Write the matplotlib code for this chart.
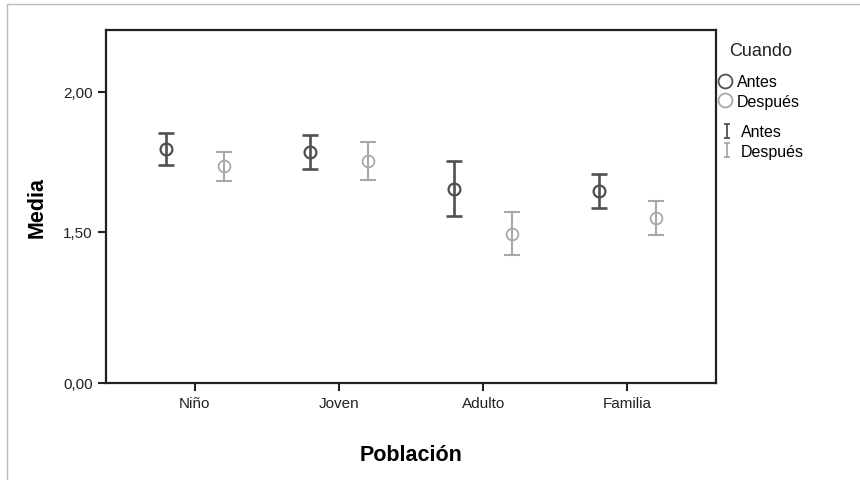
import numpy as np
import matplotlib
matplotlib.use('Agg')
import matplotlib.pyplot as plt
from matplotlib.lines import Line2D
from matplotlib.patches import Rectangle
from matplotlib.path import Path
from matplotlib.ticker import FixedLocator, FuncFormatter

plt.rcParams['font.family'] = ['Liberation Sans', 'DejaVu Sans']

# data
poblacion = ['Niño', 'Joven', 'Adulto', 'Familia']
antes_media = [1.795, 1.785, 1.651, 1.644]
antes_low = [1.738, 1.723, 1.555, 1.586]
antes_high = [1.851, 1.846, 1.751, 1.705]
despues_media = [1.734, 1.751, 1.491, 1.548]
despues_low = [1.682, 1.686, 1.417, 1.488]
despues_high = [1.786, 1.819, 1.569, 1.610]
yticks = [0.0, 1.5, 2.0]

c_antes = '#505050'
c_desp = '#a8a8a8'

# SPSS squeezes the axis below the data, so use a piecewise scale
brk, k = 1.4, 0.314
def fwd(y):
    y = np.asarray(y, dtype=float)
    return np.where(y >= brk, y, brk - (brk - y) * k)
def inv(y):
    y = np.asarray(y, dtype=float)
    return np.where(y >= brk, y, brk - (brk - y) / k)

fig = plt.figure(figsize=(8.6, 4.81), dpi=100)
ax = fig.add_axes([0.1233, 0.2017, 0.7093, 0.7339])
ax.set_yscale('function', functions=(fwd, inv))

x = np.arange(len(poblacion))
off = 0.2

def draw(xs, m, lo, hi, col, lw):
    m, lo, hi = np.array(m), np.array(lo), np.array(hi)
    ax.errorbar(xs, m, yerr=[m - lo, hi - m], fmt='none', ecolor=col,
                elinewidth=lw, capsize=6, capthick=lw)
    ax.plot(xs, m, 'o', mfc='none', mec=col, ms=8.5, mew=lw * 0.85)

draw(x - off, antes_media, antes_low, antes_high, c_antes, 1.9)
draw(x + off, despues_media, despues_low, despues_high, c_desp, 1.5)

ax.set_xlim(-0.615, 3.615)
ax.set_ylim(0, 2.22)
ax.yaxis.set_major_locator(FixedLocator(yticks))
ax.yaxis.set_minor_locator(FixedLocator([]))
ax.yaxis.set_major_formatter(FuncFormatter(lambda v, p: f'{v:.2f}'.replace('.', ',')))
ax.set_xticks(x)
ax.set_xticklabels(poblacion)
ax.tick_params(axis='both', length=6, width=1.5, color='#222222', labelsize=11, labelcolor='#222222')
for s in ax.spines.values():
    s.set_linewidth(1.6)
    s.set_color('#222222')

ax.set_ylabel('Media', fontsize=15.5, fontweight='bold', labelpad=11)
ax.set_xlabel('Población', fontsize=15.5, fontweight='bold', labelpad=24)

# legend: title, markers, then error bars
fig.text(729 / 860, 1 - 52 / 481, 'Cuando', fontsize=13, va='center', ha='left', color='#222222')
h1 = [Line2D([], [], ls='none', marker='o', mfc='none', mec=c_antes, ms=10, mew=1.3),
      Line2D([], [], ls='none', marker='o', mfc='none', mec=c_desp, ms=10, mew=1.3)]
fig.legend(h1, ['Antes', 'Después'], loc='center left',
           bbox_to_anchor=(718.5 / 860, 1 - 92.5 / 481), frameon=False, fontsize=11.5,
           handlelength=0.8, handletextpad=0.35, labelspacing=0.3,
           borderpad=0, borderaxespad=0)
ibeam = Path([(-0.5, 1), (0.5, 1), (0, 1), (0, -1), (-0.5, -1), (0.5, -1)],
             [Path.MOVETO, Path.LINETO, Path.MOVETO, Path.LINETO, Path.MOVETO, Path.LINETO])
h2 = [Line2D([], [], ls='none', marker=ibeam, color=c_antes, ms=10, mew=1.3),
      Line2D([], [], ls='none', marker=ibeam, color=c_desp, ms=10, mew=1.3)]
fig.legend(h2, ['Antes', 'Después'], loc='center left',
           bbox_to_anchor=(721 / 860, 1 - 142.5 / 481), frameon=False, fontsize=11.5,
           handlelength=0.8, handletextpad=0.45, labelspacing=0.3,
           borderpad=0, borderaxespad=0)

# thin outer frame of the original export
fig.patches.append(Rectangle((7 / 860, -0.01), 1.0, 1 - 5 / 481 + 0.01,
                             transform=fig.transFigure, fill=False,
                             ec='#bbbbbb', lw=1.0))

fig.savefig('out.png', dpi=100)
